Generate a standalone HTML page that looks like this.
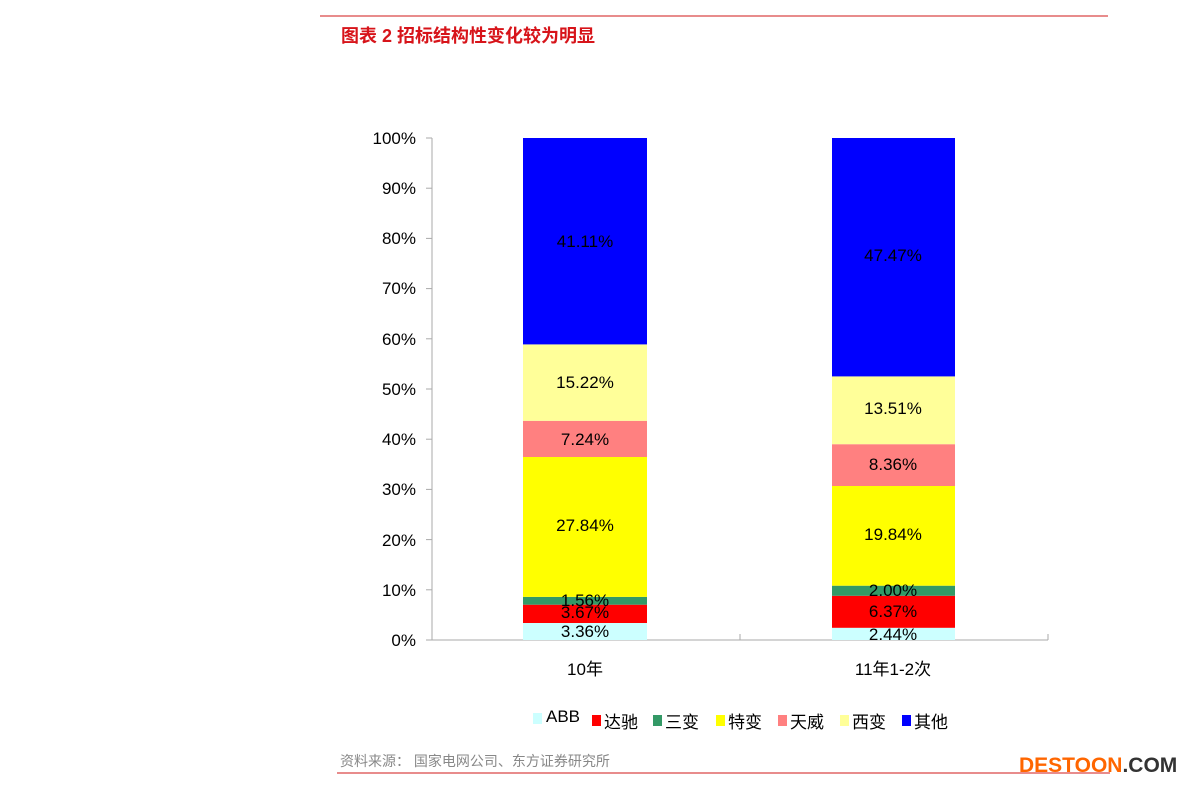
<!DOCTYPE html>
<html><head><meta charset="utf-8"><style>
body{margin:0;background:#fff;}
svg text{font-family:"Liberation Sans","Noto Sans CJK SC",sans-serif;}
</style></head><body>
<svg width="1191" height="788" xmlns="http://www.w3.org/2000/svg">
<line x1="320" y1="16" x2="1108" y2="16" stroke="#e06666" stroke-width="1.5"/>
<text x="341" y="42" font-size="18" font-weight="bold" fill="#d7141a">图表 2  招标结构性变化较为明显</text>
<g stroke="#aaa" stroke-width="1">
<line x1="432" y1="138" x2="432" y2="640"/>
<line x1="432" y1="640" x2="1048" y2="640"/>
<line x1="740" y1="634" x2="740" y2="640"/>
<line x1="1048" y1="634" x2="1048" y2="640"/>
<line x1="426" y1="138" x2="432" y2="138"/><line x1="426" y1="188.2" x2="432" y2="188.2"/>
<line x1="426" y1="238.4" x2="432" y2="238.4"/><line x1="426" y1="288.6" x2="432" y2="288.6"/>
<line x1="426" y1="338.8" x2="432" y2="338.8"/><line x1="426" y1="389" x2="432" y2="389"/>
<line x1="426" y1="439.2" x2="432" y2="439.2"/><line x1="426" y1="489.4" x2="432" y2="489.4"/>
<line x1="426" y1="539.6" x2="432" y2="539.6"/><line x1="426" y1="589.8" x2="432" y2="589.8"/>
<line x1="426" y1="640" x2="432" y2="640"/>
</g>
<g font-size="17" fill="#000" text-anchor="end">
<text x="416" y="144">100%</text><text x="416" y="194">90%</text><text x="416" y="244">80%</text>
<text x="416" y="294">70%</text><text x="416" y="345">60%</text><text x="416" y="395">50%</text>
<text x="416" y="445">40%</text><text x="416" y="495">30%</text><text x="416" y="546">20%</text>
<text x="416" y="596">10%</text><text x="416" y="646">0%</text>
</g>
<rect x="523" y="623" width="124" height="17" fill="#ccffff"/>
<rect x="523" y="604.7" width="124" height="18.3" fill="#ff0000"/>
<rect x="523" y="596.9" width="124" height="7.8" fill="#339966"/>
<rect x="523" y="457" width="124" height="139.9" fill="#ffff00"/>
<rect x="523" y="420.8" width="124" height="36.2" fill="#ff8080"/>
<rect x="523" y="344.4" width="124" height="76.4" fill="#ffff99"/>
<rect x="523" y="138" width="124" height="206.4" fill="#0000ff"/>
<rect x="832" y="627.8" width="123" height="12.2" fill="#ccffff"/>
<rect x="832" y="595.8" width="123" height="32" fill="#ff0000"/>
<rect x="832" y="585.7" width="123" height="10.1" fill="#339966"/>
<rect x="832" y="486" width="123" height="99.7" fill="#ffff00"/>
<rect x="832" y="444.2" width="123" height="41.8" fill="#ff8080"/>
<rect x="832" y="376.4" width="123" height="67.8" fill="#ffff99"/>
<rect x="832" y="138" width="123" height="238.4" fill="#0000ff"/>
<g font-size="17" fill="#000" text-anchor="middle">
<text x="585" y="637">3.36%</text><text x="585" y="618">3.67%</text><text x="585" y="606">1.56%</text>
<text x="585" y="531">27.84%</text><text x="585" y="445">7.24%</text><text x="585" y="388">15.22%</text>
<text x="585" y="247">41.11%</text>
<text x="893" y="640">2.44%</text><text x="893" y="617">6.37%</text><text x="893" y="596">2.00%</text>
<text x="893" y="540">19.84%</text><text x="893" y="470">8.36%</text><text x="893" y="414">13.51%</text>
<text x="893" y="261">47.47%</text>
<text x="585" y="675">10年</text><text x="893" y="675">11年1-2次</text>
</g>
<g font-size="17" fill="#000">
<rect x="533" y="713" width="9" height="11" fill="#ccffff"/><text x="546" y="722">ABB</text>
<rect x="592" y="715" width="9" height="11" fill="#ff0000"/><text x="604" y="728">达驰</text>
<rect x="653" y="715" width="9" height="11" fill="#339966"/><text x="665" y="728">三变</text>
<rect x="716" y="715" width="9" height="11" fill="#ffff00"/><text x="728" y="728">特变</text>
<rect x="778" y="715" width="9" height="11" fill="#ff8080"/><text x="790" y="728">天威</text>
<rect x="840" y="715" width="9" height="11" fill="#ffff99"/><text x="852" y="728">西变</text>
<rect x="902" y="715" width="9" height="11" fill="#0000ff"/><text x="914" y="728">其他</text>
</g>
<text x="340" y="766" font-size="14" fill="#888">资料来源：  国家电网公司、东方证券研究所</text>
<line x1="337" y1="773" x2="1110" y2="773" stroke="#e06666" stroke-width="1.5"/>
<text x="1019" y="772" font-size="21" font-weight="bold" fill="#ff6600">DESTOON<tspan fill="#333">.COM</tspan></text>
</svg>
</body></html>
